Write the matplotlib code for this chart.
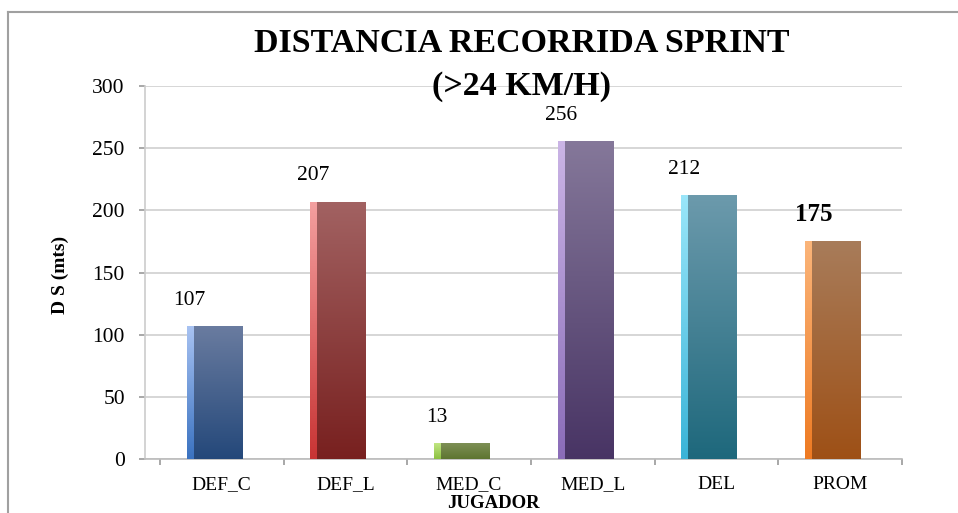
import numpy as np
import matplotlib
matplotlib.use("Agg")
import matplotlib.pyplot as plt
from matplotlib.colors import LinearSegmentedColormap
from matplotlib.lines import Line2D

categories = ["DEF_C", "DEF_L", "MED_C", "MED_L", "DEL", "PROM"]
values = [107, 207, 13, 256, 212, 175]

# (top colour, bottom colour, left highlight top, left highlight bottom)
bar_colors = [
    ("#6a7ca0", "#24487a", "#a9c3f2", "#3a72c0"),
    ("#a26262", "#78201f", "#f4a0a0", "#c83434"),
    ("#7f9158", "#5e7530", "#c4e887", "#8cc040"),
    ("#85789a", "#483464", "#cbb5e6", "#8a6cb8"),
    ("#6c9aac", "#1e687c", "#9ae6fa", "#3ab4d8"),
    ("#a87c5a", "#9e5016", "#fbb57a", "#ee7a22"),
]

serif = ["Liberation Serif", "DejaVu Serif"]

fig = plt.figure(figsize=(9.58, 5.13), dpi=100)
ax = fig.add_axes([145 / 958, 1 - 459 / 513, (902 - 145) / 958, (459 - 86) / 513])

x = np.arange(len(categories))
shift = -0.06
width = 0.447
strip = 0.05

grad = np.linspace(0, 1, 256).reshape(-1, 1)
for xi, v, (ct, cb, st, sb) in zip(x, values, bar_colors):
    xc = xi + shift
    bar = ax.bar(xc, v, width=width, color=cb, edgecolor="none", zorder=2)[0]
    cmap = LinearSegmentedColormap.from_list("g", [cb, ct])
    im = ax.imshow(grad, cmap=cmap, origin="lower", aspect="auto",
                   extent=(xc - width / 2, xc + width / 2, 0, v), zorder=3)
    im.set_clip_path(bar)
    # lighter strip along the left edge of each bar
    sbar = ax.bar(xc - width / 2 + strip / 2, v, width=strip, color=sb,
                  edgecolor="none", zorder=4)[0]
    cmap2 = LinearSegmentedColormap.from_list("s", [sb, st])
    im2 = ax.imshow(grad, cmap=cmap2, origin="lower", aspect="auto",
                    extent=(xc - width / 2, xc - width / 2 + strip, 0, v), zorder=5)
    im2.set_clip_path(sbar)

for xi, v, cat in zip(x, values, categories):
    if cat == "PROM":
        ax.text(xi - 0.21, v + 12, f"{v}", ha="center", va="bottom",
                fontsize=18, fontweight="bold", family=serif, zorder=6)
    else:
        ax.text(xi - 0.26, v + 13, f"{v}", ha="center", va="bottom",
                fontsize=15.5, family=serif, zorder=6)

ax.set_xlim(-0.62, 5.5)
ax.set_ylim(0, 300)
ax.set_yticks(np.arange(0, 301, 50))
ax.yaxis.grid(True, color="#cfcfcf", linewidth=1.2, zorder=0)
ax.set_axisbelow(True)

ax.set_xticks(np.arange(-0.5, 5.51, 1))
ax.set_xticklabels([])
ax.set_xticks(x, minor=True)
ax.set_xticklabels(categories, minor=True, family=serif, fontsize=14)
ax.tick_params(axis="x", which="major", direction="out", length=4.5, color="#999999", width=1.2)
ax.tick_params(axis="x", which="minor", length=0, pad=12.5)
ax.tick_params(axis="y", direction="out", length=4.5, color="#999999", width=1.2, pad=10)
for lab in ax.get_yticklabels():
    lab.set_family(serif)
    lab.set_fontsize(15.5)

for s in ["top", "right"]:
    ax.spines[s].set_visible(False)
ax.spines["left"].set_color("#cccccc")
ax.spines["left"].set_linewidth(1.2)
ax.spines["bottom"].set_color("#bbbbbb")
ax.spines["bottom"].set_linewidth(1.2)

fig.text(522 / 958, 1 - 44 / 513, "DISTANCIA RECORRIDA SPRINT", ha="center", va="center",
         fontsize=24.5, fontweight="bold", family=serif)
fig.text(521 / 958, 1 - 87 / 513, "(>24 KM/H)", ha="center", va="center",
         fontsize=24.5, fontweight="bold", family=serif)
fig.text(60 / 958, 1 - 275 / 513, "D S (mts)", ha="center", va="center", rotation=90,
         fontsize=14, fontweight="bold", family=serif)
fig.text(493 / 958, 1 - 503 / 513, "JUGADOR", ha="center", va="center",
         fontsize=13.5, fontweight="bold", family=serif)

# outer chart frame
fig.add_artist(Line2D([8 / 958, 8 / 958], [0, 1 - 12 / 513], transform=fig.transFigure,
                      color="#a0a0a0", linewidth=1.5))
fig.add_artist(Line2D([8 / 958, 1], [1 - 12 / 513, 1 - 12 / 513], transform=fig.transFigure,
                      color="#a0a0a0", linewidth=1.5))

fig.savefig("out.png", dpi=100)
